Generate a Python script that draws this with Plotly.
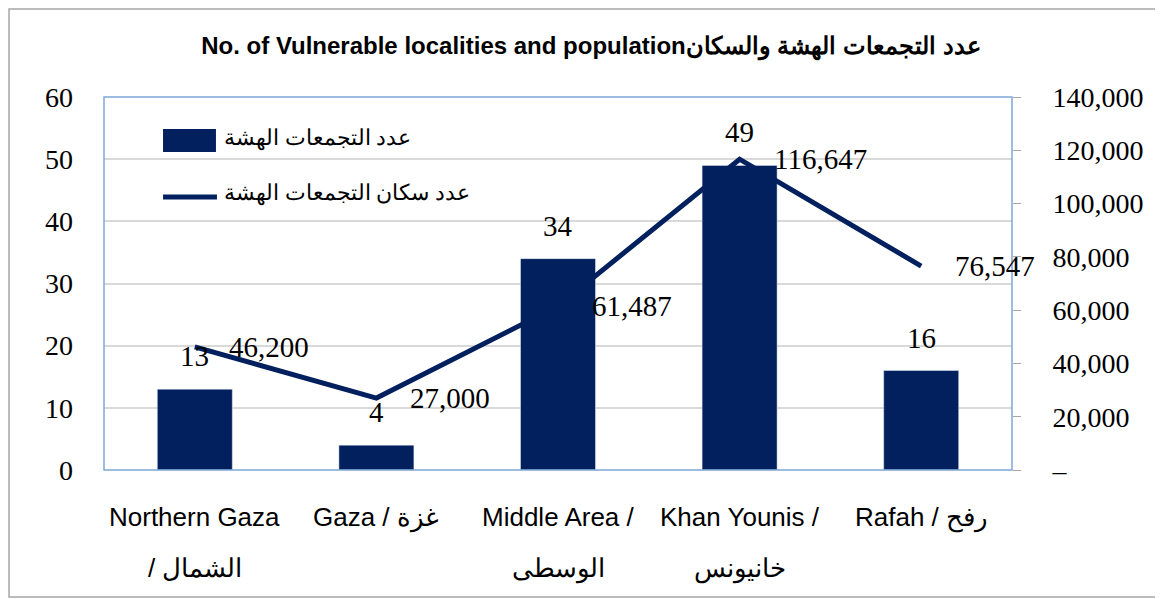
import plotly.graph_objects as go

# data
areas = ["Northern Gaza", "Gaza", "Middle Area", "Khan Younis", "Rafah"]
label_line1 = ["Northern Gaza", "Gaza / غزة", "Middle Area /", "Khan Younis /", "Rafah / رفح"]
label_line2 = ["/ الشمال", "", "الوسطى", "خانيونس", ""]
localities = [13, 4, 34, 49, 16]
population = [46200, 27000, 61487, 116647, 76547]

bar_name = "عدد التجمعات الهشة"
line_name = "عدد سكان التجمعات الهشة"
title_text = "No. of Vulnerable localities and populationعدد التجمعات الهشة والسكان"

right_ticks = [0, 20000, 40000, 60000, 80000, 100000, 120000, 140000]
right_ticktext = ["–"] + [f"{v:,}" for v in right_ticks[1:]]

navy = "#02205E"
serif = "Liberation Serif, Times New Roman, serif"
sans = "Liberation Sans, Arial, sans-serif"

fig = go.Figure()
fig.add_trace(go.Bar(x=areas, y=localities, marker_color=navy, name=bar_name,
                     showlegend=False))
fig.add_trace(go.Scatter(x=areas, y=population, yaxis="y2", mode="lines",
                         line=dict(color=navy, width=5), name=line_name,
                         showlegend=False))

ann = []
# bar value labels
for a, v in zip(areas, localities):
    ann.append(dict(x=a, y=v, xref="x", yref="y", text=str(v), showarrow=False,
                    yanchor="middle", yshift=33, font=dict(family=serif, size=29, color="black")))
# line value labels
for a, v in zip(areas, population):
    ann.append(dict(x=a, y=v, xref="x", yref="y2", text=f"{v:,}", showarrow=False,
                    xanchor="left", yanchor="middle", xshift=32,
                    font=dict(family=serif, size=29, color="black")))
# category labels (two lines, wide spacing)
for a, t1, t2 in zip(areas, label_line1, label_line2):
    ann.append(dict(x=a, y=0, xref="x", yref="paper", text=t1, showarrow=False,
                    yanchor="middle", yshift=-47, font=dict(family=sans, size=26, color="black")))
    if t2:
        ann.append(dict(x=a, y=0, xref="x", yref="paper", text=t2, showarrow=False,
                        yanchor="middle", yshift=-98, font=dict(family=sans, size=26, color="black")))
# legend drawn by hand
ann.append(dict(x=0.13, y=0.89, xref="paper", yref="paper", text=bar_name, showarrow=False,
                xanchor="left", yanchor="middle", font=dict(family=serif, size=22, color="black")))
ann.append(dict(x=0.13, y=0.743, xref="paper", yref="paper", text=line_name, showarrow=False,
                xanchor="left", yanchor="middle", font=dict(family=serif, size=22, color="black")))

shapes = [
    # outer chart border
    dict(type="rect", xref="paper", yref="paper", x0=-0.1046, x1=1.175, y0=-0.3405, y1=1.236,
         line=dict(color="#A6A6A6", width=1.5), layer="below"),
    # plot area border
    dict(type="rect", xref="paper", yref="paper", x0=0, x1=1, y0=0, y1=1,
         line=dict(color="#7FA7D6", width=1.5)),
    # legend keys
    dict(type="rect", xref="paper", yref="paper", x0=0.065, x1=0.1233, y0=0.8525, y1=0.914,
         fillcolor=navy, line=dict(width=0)),
    dict(type="line", xref="paper", yref="paper", x0=0.065, x1=0.1244, y0=0.732, y1=0.732,
         line=dict(color=navy, width=5)),
]

fig.update_layout(
    width=1163, height=599,
    margin=dict(l=96, r=159, t=89, b=137, autoexpand=False),
    paper_bgcolor="white", plot_bgcolor="white",
    bargap=0.587,
    title=dict(text=title_text, x=0.5013, xref="container", xanchor="center",
               y=1 - 38 / 599, yref="container", yanchor="middle",
               font=dict(family=sans, size=24, color="black", weight="bold")),
    # fixed range so the value annotations don't widen the category axis
    xaxis=dict(range=[-0.5, 4.5], showticklabels=False, showgrid=False, zeroline=False,
               automargin=False),
    yaxis=dict(range=[0, 60], dtick=10, showgrid=True, gridcolor="#D9D9D9", gridwidth=1.5,
               zeroline=False, ticks="", ticklabelstandoff=30, automargin=False,
               tickfont=dict(family=serif, size=28, color="black")),
    yaxis2=dict(range=[0, 140000], tickvals=right_ticks, ticktext=right_ticktext,
                overlaying="y", side="right", showgrid=False, zeroline=False,
                ticks="outside", ticklen=8, tickcolor="#A6A6A6", ticklabelstandoff=26,
                automargin=False,
                tickfont=dict(family=serif, size=28, color="black")),
    annotations=ann,
    shapes=shapes,
    showlegend=False,
)

fig.write_html("out.html")
